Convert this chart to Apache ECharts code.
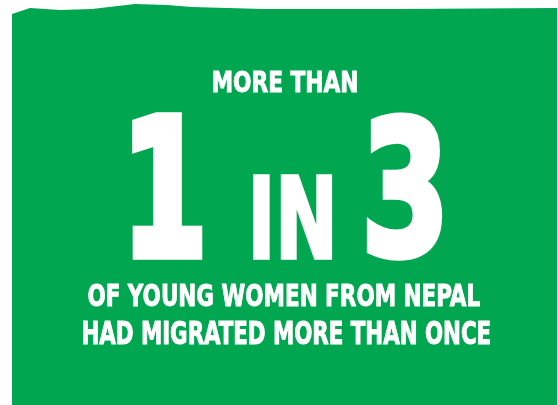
<!DOCTYPE html>
<html>
<head>
<meta charset="utf-8">
<script src="https://cdn.jsdelivr.net/npm/echarts@6/dist/echarts.min.js"></script>
<style>
html,body{margin:0;padding:0;background:#ffffff;}
#chart{width:558px;height:405px;}
</style>
</head>
<body>
<div id="chart"></div>
<script>
// ---- data ----
const headlineLines = ['MORE THAN'];
const ratioNumerator = [1];
const ratioWord = ['IN'];
const ratioDenominator = [3];
const captionLines = ['OF YOUNG WOMEN FROM NEPAL', 'HAD MIGRATED MORE THAN ONCE'];

// ---- styling ----
const GREEN = '#00a650';
const SMALL_FONT = '"Liberation Sans Narrow", "DejaVu Sans Condensed", "Roboto Condensed", sans-serif';
const BIG_FONT = '"DejaVu Sans Condensed", "Liberation Sans Narrow", sans-serif';

const mctx = document.createElement('canvas').getContext('2d');
function fitText(text, family, box, lw) {
  lw = lw || 0;
  const fs = 100;
  const font = 'bold ' + fs + 'px ' + family;
  mctx.font = font;
  mctx.textBaseline = 'middle';
  mctx.textAlign = 'left';
  const m = mctx.measureText(text);
  const left = -m.actualBoundingBoxLeft - lw / 2;
  const right = m.actualBoundingBoxRight + lw / 2;
  const top = -m.actualBoundingBoxAscent - lw / 2;
  const bottom = m.actualBoundingBoxDescent + lw / 2;
  const sx = (box[2] - box[0]) / (right - left);
  const sy = (box[3] - box[1]) / (bottom - top);
  const style = {
    x: 0, y: 0,
    text: text,
    fill: '#ffffff',
    font: font,
    textAlign: 'left',
    verticalAlign: 'middle'
  };
  if (lw > 0) {
    style.stroke = '#ffffff';
    style.lineWidth = lw;
    style.lineJoin = 'miter';
  }
  return {
    type: 'text',
    x: box[0] - left * sx,
    y: box[1] - top * sy,
    scaleX: sx,
    scaleY: sy,
    style: style
  };
}

const chart = echarts.init(document.getElementById('chart'), null, {renderer: 'canvas'});

const bgPoints = [
  [12, 14], [18, 12], [30, 8], [60, 10], [92, 9], [135, 4], [167, 5], [192, 7],
  [263, 9], [400, 9], [557, 8], [557, 405], [12, 405]
];

const elements = [
  {type: 'polygon', shape: {points: bgPoints}, style: {fill: GREEN}}
];

elements.push(fitText(headlineLines[0], SMALL_FONT, [213, 70, 357, 93], 3));
elements.push(fitText(String(ratioNumerator[0]), BIG_FONT, [132, 112, 203, 260], 5));
elements.push(fitText(ratioWord[0], BIG_FONT, [253, 175, 333, 260], 3));
elements.push(fitText(String(ratioDenominator[0]), BIG_FONT, [367, 112, 443, 260], 4));
elements.push(fitText(captionLines[0], SMALL_FONT, [88, 283, 480, 307], 3));
elements.push(fitText(captionLines[1], SMALL_FONT, [83, 320, 490, 345], 3));

chart.setOption({
  backgroundColor: '#ffffff',
  animation: false,
  graphic: {elements: elements}
});
</script>
</body>
</html>
